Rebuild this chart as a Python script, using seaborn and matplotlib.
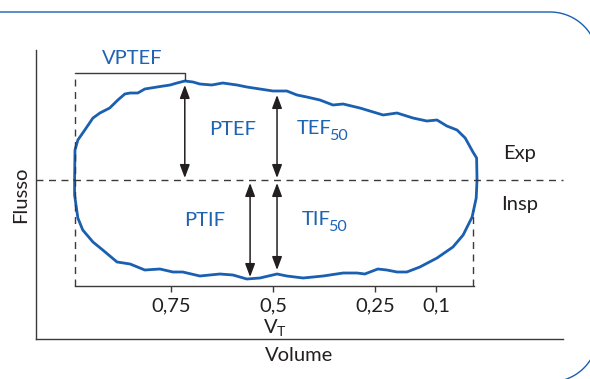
import matplotlib
matplotlib.use("Agg")
import matplotlib.pyplot as plt
import numpy as np
import pandas as pd
import seaborn as sns

# ---------------- data ----------------
# expiratory limb (upper), from high volume to low volume
exp_volume = [0.986, 0.985, 0.978, 0.961, 0.941, 0.924, 0.900, 0.880, 0.863, 0.850,
              0.831, 0.814, 0.784, 0.752, 0.735, 0.716, 0.696, 0.679, 0.650, 0.623,
              0.588, 0.564, 0.532, 0.500, 0.466, 0.441, 0.417, 0.385, 0.353, 0.328,
              0.287, 0.230, 0.196, 0.157, 0.123, 0.098, 0.074, 0.049, 0.029, 0.010,
              0.001, 0.000]
exp_flow = [0.00, 0.30, 0.40, 0.50, 0.62, 0.67, 0.72, 0.80, 0.86, 0.87,
            0.87, 0.91, 0.93, 0.95, 0.97, 0.99, 0.98, 0.96, 0.95, 0.97,
            0.95, 0.93, 0.91, 0.89, 0.89, 0.85, 0.83, 0.80, 0.75, 0.76,
            0.72, 0.65, 0.67, 0.62, 0.59, 0.60, 0.54, 0.50, 0.42, 0.28,
            0.22, 0.00]
# inspiratory limb (lower), from high volume to low volume
insp_volume = [0.986, 0.986, 0.978, 0.966, 0.941, 0.917, 0.882, 0.850, 0.814, 0.777,
               0.745, 0.721, 0.679, 0.630, 0.598, 0.564, 0.532, 0.490, 0.466, 0.426,
               0.377, 0.328, 0.294, 0.275, 0.243, 0.221, 0.196, 0.172, 0.140, 0.098,
               0.059, 0.034, 0.012, 0.002, 0.000]
insp_flow = [0.00, -0.15, -0.38, -0.50, -0.62, -0.70, -0.82, -0.84, -0.90, -0.89,
             -0.92, -0.92, -0.96, -0.94, -0.95, -0.99, -0.98, -0.94, -0.96, -0.98,
             -0.96, -0.93, -0.93, -0.94, -0.89, -0.90, -0.92, -0.92, -0.87, -0.78,
             -0.67, -0.55, -0.37, -0.18, 0.00]

tick_values = [0.75, 0.5, 0.25, 0.1]
tick_labels = ["0,75", "0,5", "0,25", "0,1"]

arrow_volume = [0.716, 0.490, 0.556, 0.490]
arrow_start = [0.02, 0.02, -0.03, -0.03]
arrow_end = [0.95, 0.85, -0.97, -0.90]

vptef_volume = [0.985, 0.716]
rv_volume = 0.0098

# ---------------- style ----------------
sns.set_style("white")
plt.rcParams["font.family"] = ["Lato", "DejaVu Sans"]
plt.rcParams["mathtext.fontset"] = "custom"
plt.rcParams["mathtext.rm"] = "Lato"
plt.rcParams["mathtext.it"] = "Lato:italic"
plt.rcParams["mathtext.bf"] = "Lato:bold"
plt.rcParams["mathtext.sf"] = "Lato"

BLUE_LINE = "#1a5fb0"
BLUE_TEXT = "#1f63b3"
DARK = "#231f20"
AX = "#3a3a3a"
FS = 14.5

fig = plt.figure(figsize=(5.9, 3.79), dpi=100)

# background frame (panel border with rounded right corners), pixel units
bg = fig.add_axes([0, 0, 1, 1])
bg.set_xlim(0, 590)
bg.set_ylim(379, 0)
bg.axis("off")
R = 48
t = np.linspace(0, np.pi / 2, 40)
top_x = np.concatenate([[-10], 550 + R * np.sin(t)])
top_y = np.concatenate([[12], 60 - R * np.cos(t)])
bot_x = np.concatenate([550 + R * np.cos(t), [-10]])
bot_y = np.concatenate([334 + R * np.sin(t), [382]])
bx = np.concatenate([top_x, bot_x])
by = np.concatenate([top_y, bot_y])
bg.plot(bx, by, color=BLUE_LINE, lw=1.0, solid_capstyle="butt")

# outer axes (Flusso / Volume)
ax0 = fig.add_axes([36 / 590, 1 - 339 / 379, 527 / 590, 289 / 379])
ax0.set_facecolor("none")
ax0.set_xticks([])
ax0.set_yticks([])
for s in ["top", "right"]:
    ax0.spines[s].set_visible(False)
for s in ["left", "bottom"]:
    ax0.spines[s].set_color(AX)
    ax0.spines[s].set_linewidth(1.0)
ax0.set_xlabel("Volume", fontsize=FS, color=DARK, labelpad=6)
ax0.set_ylabel("Flusso", fontsize=FS, color=DARK, labelpad=5)

# inner axes (the loop)
ax = fig.add_axes([75 / 590, 1 - 286 / 379, 399 / 590, 236 / 379])
ax.set_facecolor("none")

loop = pd.DataFrame({
    "volume": exp_volume + insp_volume[::-1],
    "flow": exp_flow + insp_flow[::-1],
})
sns.lineplot(data=loop, x="volume", y="flow", sort=False, estimator=None,
             color=BLUE_LINE, linewidth=2.0, ax=ax)
for ln in ax.lines:
    ln.set_clip_on(False)
    ln.set_solid_joinstyle("round")

ax.set_xlim(0.985, 0.0074)
ax.set_ylim(-1.06, 1.30)

for s in ["top", "right", "left"]:
    ax.spines[s].set_visible(False)
ax.spines["bottom"].set_color(AX)
ax.spines["bottom"].set_linewidth(1.0)
ax.set_yticks([])
ax.set_xticks(tick_values, tick_labels)
ax.tick_params(axis="x", bottom=True, direction="out", length=4, width=1,
               color=AX, pad=4, labelsize=FS, labelcolor=DARK)
ax.set_xlabel("V$_{\\mathrm{T}}$", fontsize=FS, color=DARK, labelpad=2)
ax.set_ylabel("")

# zero-flow dashed line
ax.axhline(0, xmin=(36 - 75) / 399, xmax=(563 - 75) / 399, color=AX,
           lw=1.0, ls=(0, (5, 4)), clip_on=False)
# dashed verticals
ax.plot([vptef_volume[0], vptef_volume[0]], [-1.06, 1.07], color=AX, lw=1.0,
        ls=(0, (5, 4)), clip_on=False)
ax.plot([rv_volume, rv_volume], [-1.06, -0.30], color=AX, lw=1.0,
        ls=(0, (5, 4)), clip_on=False)
# VPTEF bracket
ax.plot([vptef_volume[0], vptef_volume[1], vptef_volume[1]], [1.07, 1.07, 1.00],
        color=AX, lw=1.0, clip_on=False)

# arrows
for v, f0, f1 in zip(arrow_volume, arrow_start, arrow_end):
    ax.annotate("", xy=(v, f1), xytext=(v, f0),
                arrowprops=dict(arrowstyle="<|-|>,head_length=0.8,head_width=0.3",
                                color=DARK, lw=1.1, shrinkA=0, shrinkB=0,
                                mutation_scale=10),
                annotation_clip=False)

# labels
renderer = fig.canvas.get_renderer()


def sub_label(x, y, main, sub):
    txt = ax.text(x, y, main, color=BLUE_TEXT, fontsize=FS, ha="left", va="baseline")
    w = txt.get_window_extent(renderer).width
    ax.annotate(sub, xy=(x, y), xycoords="data", xytext=(w - 2.5, -6),
                textcoords="offset pixels", color=BLUE_TEXT, fontsize=FS * 0.8,
                ha="left", va="baseline", annotation_clip=False)


ax.text(0.846, 1.16, "VPTEF", color=BLUE_TEXT, fontsize=FS, ha="center", va="baseline")
ax.text(0.598, 0.45, "PTEF", color=BLUE_TEXT, fontsize=FS, ha="center", va="baseline")
sub_label(0.441, 0.46, "TEF", "50")
ax.text(0.667, -0.46, "PTIF", color=BLUE_TEXT, fontsize=FS, ha="center", va="baseline")
sub_label(0.429, -0.45, "TIF", "50")
ax.text(-0.105, 0.21, "Exp", color=DARK, fontsize=FS, ha="center", va="baseline")
ax.text(-0.105, -0.30, "Insp", color=DARK, fontsize=FS, ha="center", va="baseline")

fig.savefig("out.png", dpi=100)
